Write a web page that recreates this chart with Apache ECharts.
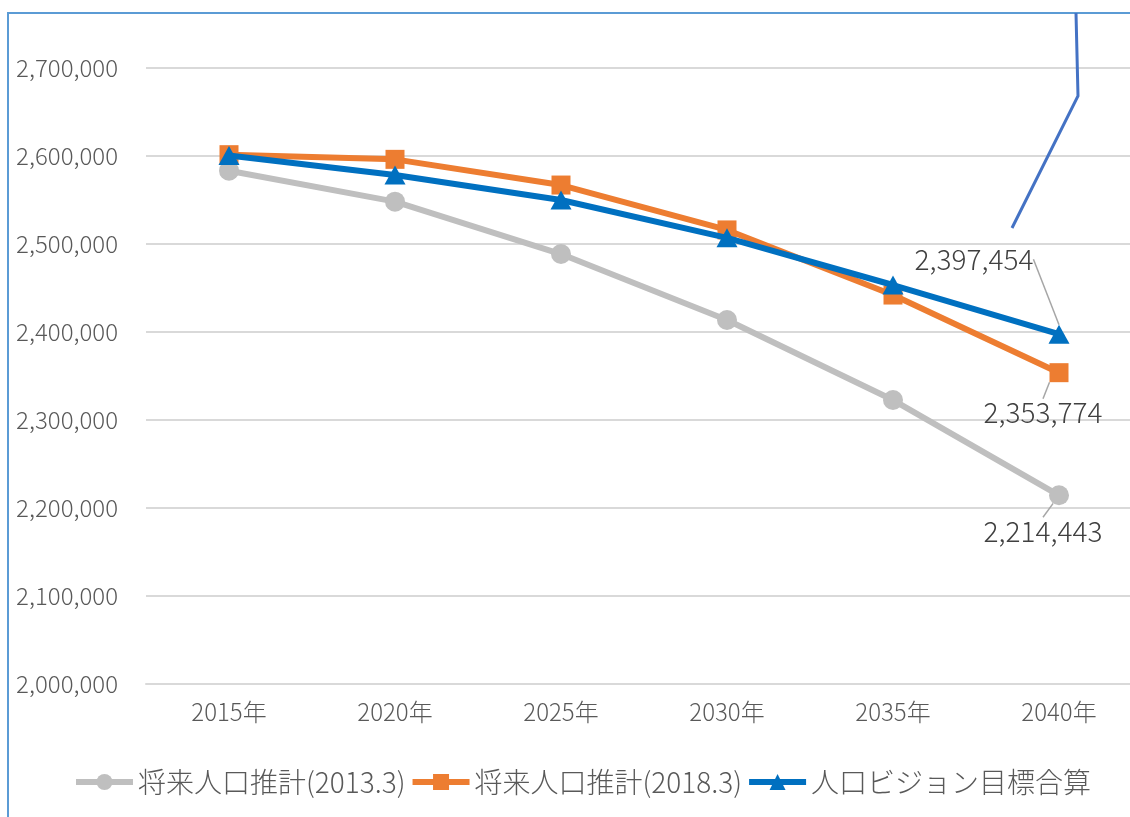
<!DOCTYPE html>
<html>
<head>
<meta charset="utf-8">
<script src="https://cdn.jsdelivr.net/npm/echarts@6/dist/echarts.min.js"></script>
<style>
html,body{margin:0;padding:0;background:#fff;}
#c{width:1130px;height:817px;}
</style>
</head>
<body>
<div id="c"></div>
<script>
const categories = ['2015年','2020年','2025年','2030年','2035年','2040年'];
const seriesNames = ['将来人口推計(2013.3)','将来人口推計(2018.3)','人口ビジョン目標合算'];
const est2013 = [2583300, 2548100, 2488600, 2413600, 2322700, 2214443];
const est2018 = [2601500, 2596200, 2567000, 2516000, 2442000, 2353774];
const vision  = [2600500, 2578400, 2550000, 2507000, 2453400, 2397454];
const yTicks = {min: 2000000, max: 2700000, interval: 100000};

const FONT = '"Noto Sans CJK JP","Noto Sans",sans-serif';
const TXT = '#595959';
const fmt = v => v.toLocaleString('en-US');

const labelOffsets = [[-16, 36], [-16, 40], [-85, -75]];

function mkSeries(name, data, color, symbol, size, idx) {
  const last = data.length - 1;
  return {
    name, type: 'line', data: data.map((v, i) => i === last ? {
      value: v,
      label: {show: true, position: 'inside', formatter: p => fmt(p.value),
        fontFamily: FONT, fontSize: 28, fontWeight: 300, color: '#404040'},
      labelLine: {show: true, lineStyle: {color: '#A6A6A6', width: 1.5}}
    } : v),
    symbol, symbolSize: size, showAllSymbol: true,
    lineStyle: {color, width: 6}, itemStyle: {color},
    emphasis: {disabled: true},
    labelLayout: p => p.dataIndex === last ? {dx: labelOffsets[idx][0], dy: labelOffsets[idx][1]} : {},
    z: 2 + idx, animation: false
  };
}

const chart = echarts.init(document.getElementById('c'));
chart.setOption({
  backgroundColor: '#fff',
  animation: false,
  grid: {left: 146, width: 996, top: 68, bottom: 133, containLabel: false, outerBoundsMode: 'none'},
  legend: {
    left: 73, top: 768, padding: 0, itemWidth: 57, itemHeight: 20, itemGap: 4,
    lineStyle: {width: 6},
    textStyle: {fontFamily: FONT, fontSize: 28, fontWeight: 300, color: TXT},
    data: seriesNames
  },
  xAxis: {
    type: 'category', data: categories, boundaryGap: true,
    axisLine: {show: true, lineStyle: {color: '#D9D9D9', width: 2}},
    axisTick: {show: false},
    axisLabel: {fontFamily: FONT, fontSize: 24, fontWeight: 300, color: TXT, margin: 16}
  },
  yAxis: {
    type: 'value', min: yTicks.min, max: yTicks.max, interval: yTicks.interval,
    axisLine: {show: false}, axisTick: {show: false},
    splitLine: {lineStyle: {color: '#D9D9D9', width: 2}},
    axisLabel: {fontFamily: FONT, fontSize: 24, fontWeight: 300, color: TXT, margin: 28, formatter: v => fmt(v)}
  },
  series: [
    mkSeries(seriesNames[0], est2013, '#BFBFBF', 'circle', 20, 0),
    mkSeries(seriesNames[1], est2018, '#ED7D31', 'rect', 19, 1),
    mkSeries(seriesNames[2], vision, '#0070C0', 'triangle', [21, 19], 2)
  ],
  graphic: [
    {type: 'rect', shape: {x: 8, y: 13, width: 1200, height: 900},
     style: {fill: 'none', stroke: '#5B9BD5', lineWidth: 2}, silent: true, z: 0},
    {type: 'polyline', shape: {points: [[1076, 13], [1078, 96], [1012, 228]]},
     style: {stroke: '#4472C4', lineWidth: 3, fill: 'none'}, silent: true, z: 10}
  ]
});
</script>
</body>
</html>
